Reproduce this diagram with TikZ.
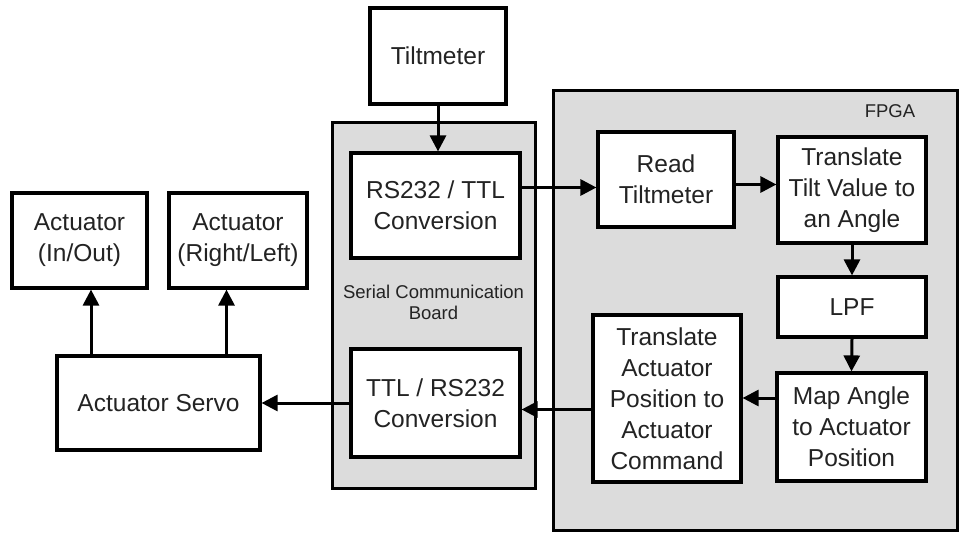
\documentclass[tikz,border=0pt]{standalone}
\usepackage{fontspec}
\setmainfont{Liberation Sans}
\usetikzlibrary{arrows.meta}
\definecolor{boardgray}{RGB}{220,220,220}
\definecolor{inkgray}{RGB}{35,35,35}
\tikzset{block/.style={draw,line width=3.2pt,fill=white,align=center,inner sep=2pt,text=inkgray,font=\fontsize{24.5}{31}\selectfont}}
\tikzset{board/.style={draw,line width=3pt,fill=boardgray,inner sep=0pt}}
\tikzset{boardlabel/.style={text=inkgray,font=\fontsize{18.5}{21}\selectfont,align=center}}
\tikzset{link/.style={line width=3pt,-{Triangle[length=16pt,width=16pt]}}}

\begin{document}
\begin{tikzpicture}[x=1pt,y=-1pt]
  \useasboundingbox (0,0) rectangle (960,534);

  % boards
  \node[board,minimum width=203,minimum height=365] (serial) at (433.5,305.5) {};
  \node[board,minimum width=404,minimum height=439] (fpga) at (755,310.5) {};
  \node[boardlabel] (seriallabel) at (433.5,302.5) {Serial Communication\\Board};
  \node[boardlabel] (fpgalabel) at (890,111) {FPGA};

  % blocks
  \node[block,minimum width=136,minimum height=96] (tilt) at (438,56) {Tiltmeter};
  \node[block,minimum width=169,minimum height=105] (rsttl) at (435.5,205.5) {RS232 / TTL\\Conversion};
  \node[block,minimum width=169,minimum height=108] (ttlrs) at (435.5,403) {TTL / RS232\\Conversion};
  \node[block,minimum width=136,minimum height=95] (read) at (666,179.5) {Read\\Tiltmeter};
  \node[block,minimum width=148,minimum height=106] (transtilt) at (852,190) {Translate\\Tilt Value to\\an Angle};
  \node[block,minimum width=148,minimum height=60] (lpf) at (852,307) {LPF};
  \node[block,minimum width=149,minimum height=108] (mapang) at (851.5,427) {Map Angle\\to Actuator\\Position};
  \node[block,minimum width=148,minimum height=167] (transact) at (667,398.5) {Translate\\Actuator\\Position to\\Actuator\\Command};
  \node[block,minimum width=135,minimum height=95] (actio) at (79.5,240.5) {Actuator\\(In/Out)};
  \node[block,minimum width=138,minimum height=95] (actrl) at (238,240.5) {Actuator\\(Right/Left)};
  \node[block,minimum width=203,minimum height=94] (servo) at (158.5,403) {Actuator Servo};

  % signal flow
  \draw[link] (tilt.south) -- (tilt.south |- rsttl.north);
  \draw[link] ([yshift=18pt]rsttl.east) -- ([yshift=18pt]rsttl.east -| read.west);
  \draw[link] ([yshift=-5pt]read.east) -- ([yshift=-5pt]read.east -| transtilt.west);
  \draw[link] (transtilt.south) -- (lpf.north);
  \draw[link] (lpf.south) -- (mapang.north);
  \draw[link] ([yshift=29pt]mapang.west) -- ([yshift=29pt]mapang.west -| transact.east);
  \draw[link] ([yshift=-11pt]transact.west) -- ([yshift=-11pt]transact.west -| ttlrs.east);
  \draw[link] (ttlrs.west) -- (ttlrs.west -| servo.east);
  \draw[link] ([xshift=-67.5pt]servo.north) -- ([xshift=-67.5pt]servo.north |- actio.south);
  \draw[link] ([xshift=68pt]servo.north) -- ([xshift=68pt]servo.north |- actrl.south);
\end{tikzpicture}
\end{document}
